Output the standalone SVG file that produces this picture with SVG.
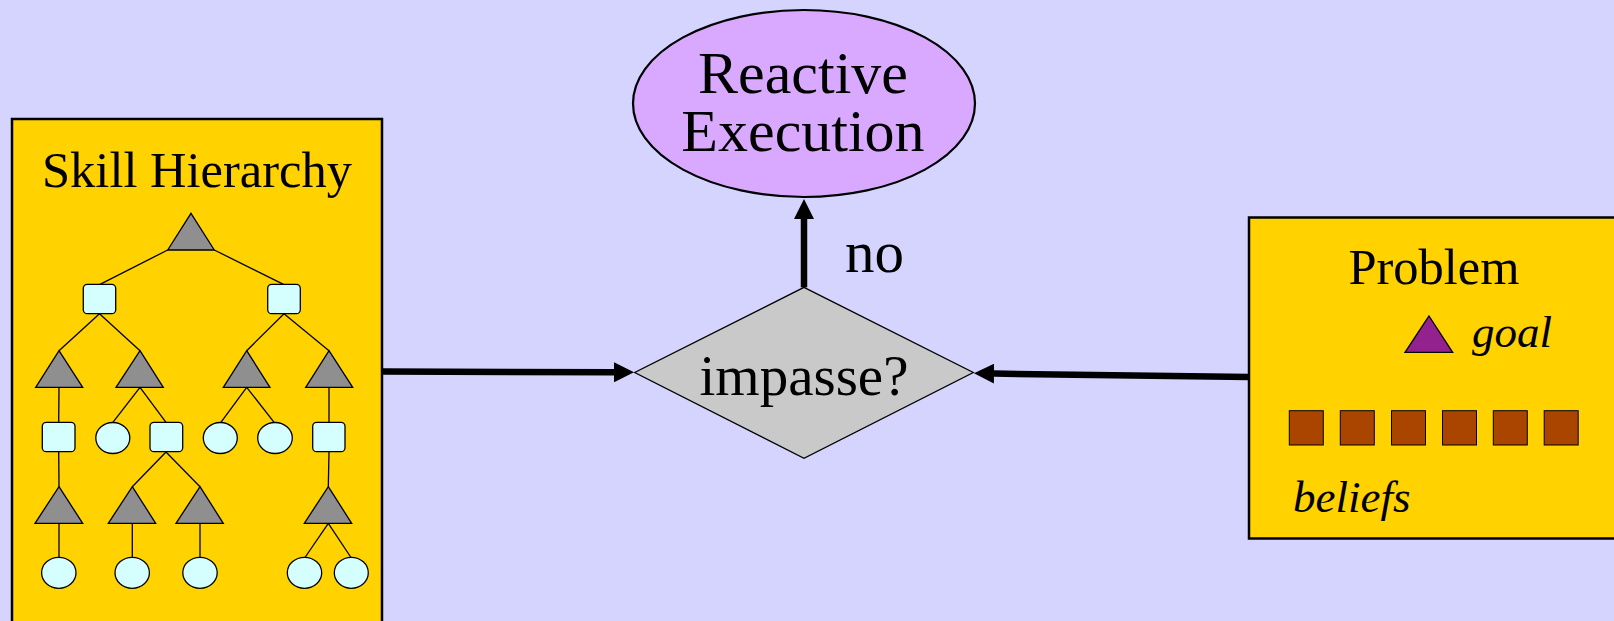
<svg xmlns="http://www.w3.org/2000/svg" width="1614" height="621" viewBox="0 0 1614 621">
  <style>
    .t { font-family: "Liberation Serif", "Times New Roman", serif; fill: #000; }
    .box { fill: #FFD200; stroke: #000; stroke-width: 2.5; }
    .tri { fill: #8F8F8F; stroke: #000; stroke-width: 1.3; }
    .sq { fill: #D5FFFF; stroke: #000; stroke-width: 1.3; }
    .ci { fill: #D5FFFF; stroke: #000; stroke-width: 1.3; }
    .edge { stroke: #000; stroke-width: 1.3; fill: none; }
    .belief { fill: #AA4500; stroke: #000; stroke-width: 1; }
    .conn { stroke: #000; stroke-width: 6.5; fill: none; marker-end: url(#ah); }
  </style>
  <defs>
    <marker id="ah" viewBox="0 0 20 20" markerWidth="20" markerHeight="20" markerUnits="userSpaceOnUse" refX="0" refY="10" orient="auto">
      <path d="M0,0 L20,10 L0,20 Z" fill="#000"/>
    </marker>
  </defs>
  <rect x="0" y="0" width="1614" height="621" fill="#D4D4FE"/>

  <g id="skill-hierarchy">
    <rect class="box" x="12" y="119" width="370" height="540"/>
    <text class="t" x="197" y="187" font-size="50.5" text-anchor="middle">Skill Hierarchy</text>
    <g class="edges">
      <line class="edge" x1="167.7" y1="250" x2="100" y2="284.3"/>
      <line class="edge" x1="214.3" y1="250" x2="283.5" y2="284.3"/>
      <line class="edge" x1="99.5" y1="313.7" x2="59" y2="350.7"/>
      <line class="edge" x1="99.5" y1="313.7" x2="140" y2="350.7"/>
      <line class="edge" x1="284" y1="313.7" x2="246.7" y2="350.7"/>
      <line class="edge" x1="284" y1="313.7" x2="329" y2="350.7"/>
      <line class="edge" x1="59" y1="387.3" x2="58.7" y2="422.3"/>
      <line class="edge" x1="140" y1="387.3" x2="112.7" y2="422.7"/>
      <line class="edge" x1="140" y1="387.3" x2="166" y2="422.3"/>
      <line class="edge" x1="246.7" y1="387.3" x2="220.7" y2="422.7"/>
      <line class="edge" x1="246.7" y1="387.3" x2="274.3" y2="422.7"/>
      <line class="edge" x1="329" y1="387.3" x2="329" y2="422.3"/>
      <line class="edge" x1="58.7" y1="451.7" x2="59" y2="486.7"/>
      <line class="edge" x1="166" y1="452" x2="132.3" y2="486.7"/>
      <line class="edge" x1="166" y1="452" x2="200" y2="486.7"/>
      <line class="edge" x1="329" y1="452" x2="328.3" y2="486.7"/>
      <line class="edge" x1="59" y1="523.3" x2="59" y2="557.3"/>
      <line class="edge" x1="132.3" y1="523.3" x2="132.3" y2="557.3"/>
      <line class="edge" x1="200" y1="523.3" x2="200" y2="557.3"/>
      <line class="edge" x1="328.3" y1="523.3" x2="305" y2="557.5"/>
      <line class="edge" x1="328.3" y1="523.3" x2="351" y2="557.5"/>
    </g>
    <polygon class="tri" points="191,213.3 214.3,250 167.7,250"/>
    <rect class="sq" x="83.3" y="284.3" width="32.4" height="29.4" rx="4"/>
    <rect class="sq" x="267.7" y="284.3" width="32.6" height="29.4" rx="4"/>
    <polygon class="tri" points="59,350.7 82.7,387.3 35.7,387.3"/>
    <polygon class="tri" points="140,350.7 163.3,387.3 116,387.3"/>
    <polygon class="tri" points="246.7,350.7 270,387.3 223.3,387.3"/>
    <polygon class="tri" points="329,350.7 352.7,387.3 305.7,387.3"/>
    <rect class="sq" x="42.3" y="422.3" width="32.7" height="29.4" rx="4"/>
    <ellipse class="ci" cx="112.8" cy="438" rx="17" ry="15.5"/>
    <rect class="sq" x="150" y="422.3" width="32.7" height="29.4" rx="4"/>
    <ellipse class="ci" cx="220.3" cy="438" rx="17" ry="15.5"/>
    <ellipse class="ci" cx="275" cy="438" rx="17.3" ry="15.5"/>
    <rect class="sq" x="312.7" y="422.3" width="32.3" height="29.4" rx="4"/>
    <polygon class="tri" points="59,486.7 82.7,523.3 35,523.3"/>
    <polygon class="tri" points="132.3,486.7 155.7,523.3 108.3,523.3"/>
    <polygon class="tri" points="200,486.7 223.3,523.3 176,523.3"/>
    <polygon class="tri" points="328.3,486.7 351.7,523.3 304.3,523.3"/>
    <ellipse class="ci" cx="58.8" cy="572.8" rx="17.2" ry="15.5"/>
    <ellipse class="ci" cx="132.2" cy="572.8" rx="17.2" ry="15.5"/>
    <ellipse class="ci" cx="200" cy="572.8" rx="17.2" ry="15.5"/>
    <ellipse class="ci" cx="304.5" cy="572.8" rx="17.2" ry="15.5"/>
    <ellipse class="ci" cx="351.3" cy="572.8" rx="17" ry="15.5"/>
  </g>

  <g id="reactive-execution">
    <ellipse cx="804" cy="103.5" rx="171" ry="93.5" fill="#D8A9FE" stroke="#000" stroke-width="2.2"/>
    <text class="t" font-size="60" text-anchor="middle"><tspan x="803" y="92.5">Reactive</tspan><tspan x="803" y="151">Execution</tspan></text>
  </g>

  <g id="impasse">
    <polygon points="804,287.3 973.3,372.5 804,458.3 634.7,372.5" fill="#C9C9C9" stroke="#000" stroke-width="1.3"/>
    <text class="t" x="804" y="395" font-size="57" text-anchor="middle">impasse?</text>
  </g>

  <g id="problem">
    <rect class="box" x="1249" y="217.5" width="400" height="321"/>
    <text class="t" x="1434" y="284" font-size="50.5" text-anchor="middle">Problem</text>
    <polygon points="1429,316 1452.7,352.3 1405,352.3" fill="#93228F" stroke="#000" stroke-width="1.3"/>
    <text class="t" x="1472" y="346.7" font-size="45" font-style="italic">goal</text>
    <rect class="belief" x="1289.3" y="410.7" width="34" height="34.3"/>
    <rect class="belief" x="1340.3" y="410.7" width="34" height="34.3"/>
    <rect class="belief" x="1391.5" y="410.7" width="34" height="34.3"/>
    <rect class="belief" x="1442.5" y="410.7" width="34" height="34.3"/>
    <rect class="belief" x="1493.3" y="410.7" width="34" height="34.3"/>
    <rect class="belief" x="1544.2" y="410.7" width="34" height="34.3"/>
    <text class="t" x="1293" y="511.7" font-size="45" font-style="italic">beliefs</text>
  </g>

  <g id="connectors">
    <line class="conn" x1="382" y1="371.5" x2="614" y2="372.3"/>
    <line class="conn" x1="1249" y1="377" x2="994" y2="373.6"/>
    <line class="conn" x1="804" y1="287.3" x2="804" y2="219"/>
    <text class="t" x="845" y="271.7" font-size="59">no</text>
  </g>
</svg>
